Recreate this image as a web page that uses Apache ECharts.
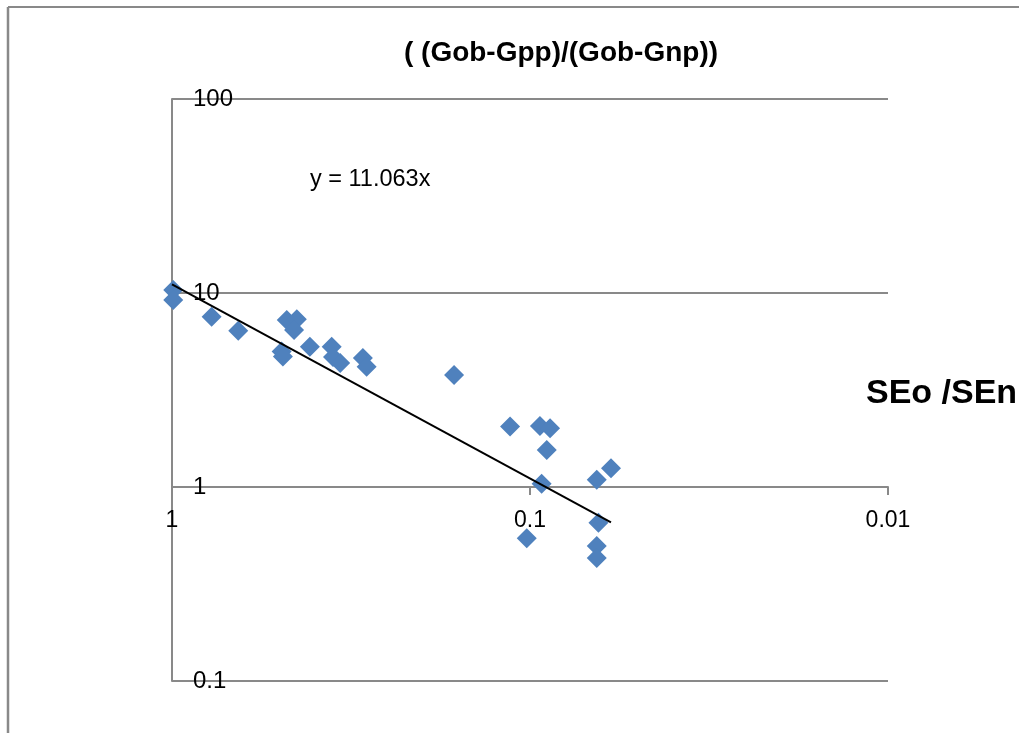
<!DOCTYPE html>
<html>
<head>
<meta charset="utf-8">
<script src="https://cdn.jsdelivr.net/npm/echarts@6/dist/echarts.min.js"></script>
<style>
html,body{margin:0;padding:0;background:#fff;}
#chart{width:1019px;height:733px;}
</style>
</head>
<body>
<div id="chart"></div>
<script>
// SEo/SEn (x) and (Gob-Gpp)/(Gob-Gnp) (y)
var xValues = [0.992, 0.992, 0.775, 0.653, 0.494, 0.490, 0.478, 0.448, 0.456, 0.412,
               0.358, 0.355, 0.339, 0.293, 0.286, 0.163, 0.1137, 0.0938, 0.0879, 0.0898,
               0.0928, 0.1021, 0.0651, 0.0594, 0.0644, 0.0651, 0.0651];
var yValues = [10.36, 9.20, 7.55, 6.39, 4.99, 4.71, 7.26, 7.32, 6.45, 5.29,
               5.29, 4.68, 4.36, 4.62, 4.17, 3.78, 2.05, 2.06, 2.01, 1.55,
               1.04, 0.544, 1.09, 1.25, 0.655, 0.497, 0.431];
var trendCoef = 11.063;          // y = 11.063x
var trendXRange = [1, 0.0594];   // trend line drawn over the data range
var xTickLabels = ['1', '0.1', '0.01'];
var yTickLabels = ['0.1', '1', '10', '100'];
var chartTitle = '( (Gob-Gpp)/(Gob-Gnp))';
var xAxisTitle = 'SEo /SEn';
var equationText = 'y = 11.063x';

var points = xValues.map(function (x, i) { return [x, yValues[i]]; });
var trend = trendXRange.map(function (x) { return [x, trendCoef * x]; });

var FONT = "'Liberation Sans', Arial, sans-serif";
var GRAY = '#898989';
var gridTop = 99, gridBottom = 52, H = 733;
var gridHeight = H - gridTop - gridBottom;

function fmt(labels) {
  return function (v) {
    var s = String(+Number(v).toPrecision(6));
    return labels.indexOf(s) >= 0 ? s : '';
  };
}

var chart = echarts.init(document.getElementById('chart'), null, {renderer: 'canvas'});
chart.setOption({
  animation: false,
  backgroundColor: '#fff',
  grid: {left: 172, right: 131, top: gridTop, bottom: gridBottom, containLabel: false},
  xAxis: {
    type: 'log', logBase: 10, inverse: true, min: 0.01, max: 1,
    position: 'bottom',
    offset: -gridHeight / 3,
    axisLine: {show: true, onZero: false, lineStyle: {color: GRAY, width: 2}},
    axisTick: {show: true, length: 8, lineStyle: {color: GRAY, width: 2}},
    axisLabel: {fontFamily: FONT, fontSize: 23, color: '#000', margin: 22, formatter: fmt(xTickLabels)},
    splitLine: {show: false},
    minorTick: {show: false}
  },
  yAxis: {
    type: 'log', logBase: 10, min: 0.1, max: 100,
    axisLine: {show: true, lineStyle: {color: GRAY, width: 2}},
    axisTick: {show: false},
    axisLabel: {inside: true, margin: 21, fontFamily: FONT, fontSize: 24, color: '#000', align: 'left', formatter: fmt(yTickLabels)},
    splitLine: {show: true, lineStyle: {color: GRAY, width: 2}}
  },
  series: [
    {
      type: 'scatter',
      data: points,
      symbol: 'diamond',
      symbolSize: 20,
      itemStyle: {color: '#4F81BD', opacity: 1},
      z: 2
    },
    {
      type: 'line',
      data: trend,
      symbol: 'none',
      lineStyle: {color: '#000', width: 2},
      z: 3
    }
  ],
  graphic: [
    {type: 'line', shape: {x1: 8, y1: 7, x2: 1019, y2: 7}, style: {stroke: GRAY, lineWidth: 2}},
    {type: 'line', shape: {x1: 8, y1: 7, x2: 8, y2: 733}, style: {stroke: GRAY, lineWidth: 2.5}},
    {type: 'text', x: 561, y: 53, style: {text: chartTitle, fontFamily: FONT, fontWeight: 'bold', fontSize: 28, fill: '#000', align: 'center', verticalAlign: 'middle'}},
    {type: 'text', x: 866, y: 394, style: {text: xAxisTitle, fontFamily: FONT, fontWeight: 'bold', fontSize: 34, fill: '#000', align: 'left', verticalAlign: 'middle'}},
    {type: 'text', x: 310, y: 180, style: {text: equationText, fontFamily: FONT, fontSize: 23.5, fill: '#000', align: 'left', verticalAlign: 'middle'}}
  ]
});
</script>
</body>
</html>
